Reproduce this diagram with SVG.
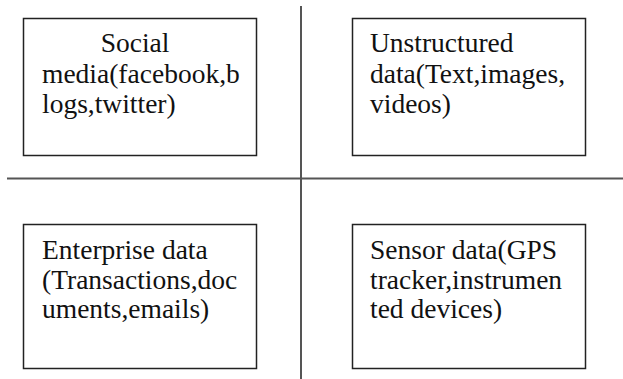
<svg xmlns="http://www.w3.org/2000/svg" width="623" height="379" viewBox="0 0 623 379">
<style>
.box{fill:#fff;stroke:#222;stroke-width:1.5}
.t{font-family:"Liberation Serif","Times New Roman",serif;font-size:27.5px;fill:#111}
.ax{stroke:#555;stroke-width:2;fill:none}
</style>
<rect width="623" height="379" fill="#fff"/>
<g id="connectors">
<line class="ax" x1="301" y1="6" x2="301" y2="379"/>
<line class="ax" x1="7" y1="178.5" x2="623" y2="178.5"/>
</g>
<g id="social">
<rect class="box" x="23.5" y="18.5" width="233" height="137"/>
<text class="t" x="135" y="52" text-anchor="middle">Social</text>
<text class="t" x="42" y="83">media(facebook,b</text>
<text class="t" x="42" y="113">logs,twitter)</text>
</g>
<g id="unstructured">
<rect class="box" x="352.5" y="18.5" width="233" height="137"/>
<text class="t" x="370" y="52">Unstructured</text>
<text class="t" x="370" y="83">data(Text,images,</text>
<text class="t" x="370" y="113">videos)</text>
</g>
<g id="enterprise">
<rect class="box" x="23.5" y="224.5" width="233" height="144"/>
<text class="t" x="42" y="259">Enterprise data</text>
<text class="t" x="42" y="289">(Transactions,doc</text>
<text class="t" x="42" y="318">uments,emails)</text>
</g>
<g id="sensor">
<rect class="box" x="352.5" y="224.5" width="233" height="144"/>
<text class="t" x="370" y="259">Sensor data(GPS</text>
<text class="t" x="370" y="289">tracker,instrumen</text>
<text class="t" x="370" y="318">ted devices)</text>
</g>
</svg>
